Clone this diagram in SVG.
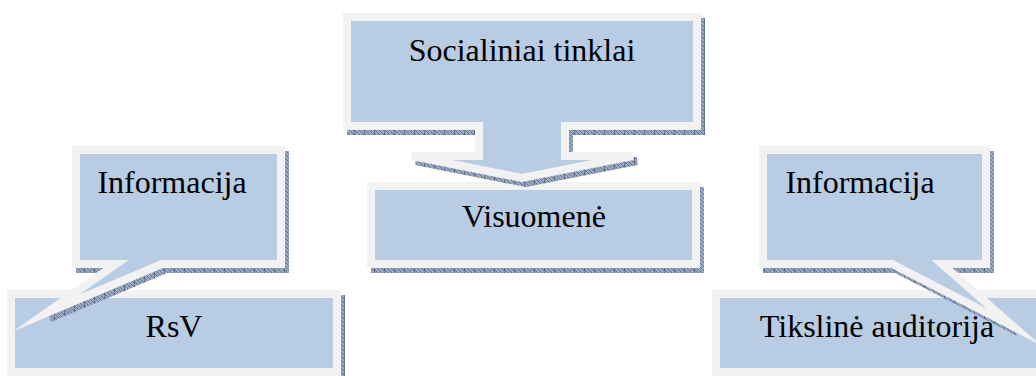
<svg xmlns="http://www.w3.org/2000/svg" width="1036" height="376" viewBox="0 0 1036 376">
<style>
.sh{fill:url(#hatch);stroke:url(#hatch);stroke-width:8;stroke-linejoin:miter}
.bx{fill:#b8cce4;stroke:#f2f2f2;stroke-width:8;stroke-linejoin:miter;stroke-miterlimit:10}
.t{font-family:"Liberation Serif","Times New Roman",serif;font-size:32px;fill:#000;text-anchor:middle}
</style>
<defs>
<pattern id="hatch" width="10" height="4" patternUnits="userSpaceOnUse">
<rect width="10" height="4" fill="#9aa9be"/>
<path d="M0,0 L4,4 M4,0 L8,4 M-4,0 L0,4 M8,0 L12,4" stroke="#4a6288" stroke-width="0.7"/>
<path d="M0,0 V4" stroke="#2e4466" stroke-width="1"/>
</pattern>
</defs>
<g id="rsv">
<path class="sh" transform="translate(4,5)" d="M11,294 H337 V372 H11 Z"/>
<path class="bx" d="M11,294 H337 V372 H11 Z"/>
<text class="t" x="174" y="337">RsV</text>
</g>
<g id="tiksline">
<path class="sh" transform="translate(4,5)" d="M716,294 H1044 V372 H716 Z"/>
<path class="bx" d="M716,294 H1044 V372 H716 Z"/>
<text class="t" x="877" y="337">Tikslinė auditorija</text>
</g>
<g id="visuomene">
<path class="sh" transform="translate(4,5)" d="M371,186 H696 V264 H371 Z"/>
<path class="bx" d="M371,186 H696 V264 H371 Z"/>
<text class="t" x="534" y="227">Visuomenė</text>
</g>
<g id="socialiniai">
<path class="sh" transform="translate(4,5)" d="M347,17 H697 V126 H565 V156 H633 L522,178 L412,156 H479 V126 H347 Z"/>
<path class="bx" d="M347,17 H697 V126 H565 V156 H633 L522,178 L412,156 H479 V126 H347 Z"/>
<text class="t" x="522" y="61">Socialiniai tinklai</text>
</g>
<g id="info-left">
<path class="sh" transform="translate(4,5)" d="M76,150 H281 V264 H162 L46,313 L116,264 H76 Z"/>
<path class="bx" d="M76,150 H281 V264 H162 L46,313 L116,264 H76 Z"/>
<text class="t" x="172" y="193">Informacija</text>
</g>
<g id="info-right">
<path class="sh" transform="translate(4,5)" d="M763,150 H986 V264 H942 L1014,327 L892,264 H763 Z"/>
<path class="bx" d="M763,150 H986 V264 H942 L1014,327 L892,264 H763 Z"/>
<text class="t" x="860" y="193">Informacija</text>
</g>
<g id="connectors"></g>
</svg>
